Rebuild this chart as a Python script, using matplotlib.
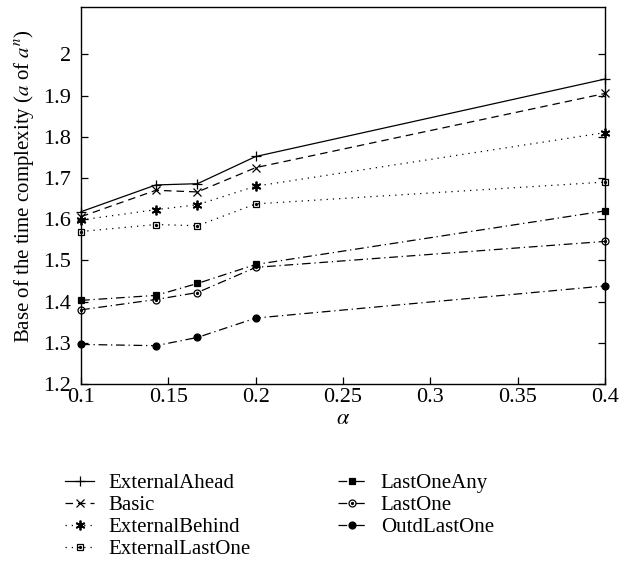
import numpy as np
import matplotlib
matplotlib.use('Agg')
import matplotlib.pyplot as plt

plt.rcParams['font.family'] = ['Liberation Serif', 'DejaVu Serif']
plt.rcParams['mathtext.fontset'] = 'stix'

# ── data ──
alpha = [0.1, 1 / 7, 1 / 6, 0.2, 0.4]
external_ahead = [1.618, 1.683, 1.686, 1.752, 1.940]
basic = [1.606, 1.670, 1.666, 1.725, 1.905]
external_behind = [1.598, 1.623, 1.635, 1.680, 1.810]
external_last_one = [1.570, 1.587, 1.584, 1.637, 1.690]
last_one_any = [1.403, 1.415, 1.444, 1.490, 1.620]
last_one = [1.380, 1.405, 1.422, 1.483, 1.546]
outd_last_one = [1.296, 1.293, 1.313, 1.360, 1.438]

dashdot = (0, (7, 3, 1, 3))
# name, values, linestyle, marker, facecolor, size, dot in centre
series = [
    ('ExternalAhead', external_ahead, '-', '+', 'k', 7, False),
    ('Basic', basic, (0, (6, 4)), 'x', 'k', 5.5, False),
    ('ExternalBehind', external_behind, (0, (1, 4)), (6, 2, 0), 'k', 7, False),
    ('ExternalLastOne', external_last_one, (0, (1, 4)), 's', 'none', 5, True),
    ('LastOneAny', last_one_any, dashdot, 's', 'k', 5, False),
    ('LastOne', last_one, dashdot, 'o', 'none', 5, True),
    ('OutdLastOne', outd_last_one, dashdot, 'o', 'k', 5, False),
]

fig = plt.figure(figsize=(6.35, 5.74), dpi=100)
ax = fig.add_axes([0.1276, 0.331, 0.8254, 0.657])

handles = []
for name, vals, ls, mk, fc, ms, dot in series:
    mew = 1.3 if name == 'ExternalBehind' else 0.9
    ln, = ax.plot(alpha, vals, color='k', linestyle=ls, linewidth=0.9,
                  marker=mk, markersize=ms, markerfacecolor=fc,
                  markeredgecolor='k', markeredgewidth=mew, clip_on=False,
                  zorder=3)
    if dot:
        d, = ax.plot(alpha, vals, linestyle='none', marker='o', markersize=1.3,
                     color='k', clip_on=False, zorder=4)
        handles.append((ln, d))
    else:
        handles.append(ln)

ax.set_xlim(0.1, 0.4)
ax.set_ylim(1.2, 2.115)
ax.set_xticks(np.arange(0.1, 0.401, 0.05))
ax.set_xticklabels(['0.1', '0.15', '0.2', '0.25', '0.3', '0.35', '0.4'])
ax.set_yticks(np.arange(1.2, 2.01, 0.1))
ax.set_yticklabels(['1.2', '1.3', '1.4', '1.5', '1.6', '1.7', '1.8', '1.9', '2'])
ax.tick_params(direction='in', labelsize=16, right=True, length=5, width=0.9)
ax.tick_params(axis='x', pad=3)
ax.tick_params(axis='y', pad=7)
for sp in ax.spines.values():
    sp.set_linewidth(1.0)

ax.set_xlabel(r'$\alpha$', fontsize=16, labelpad=2)
ax.set_ylabel(r'Base of the time complexity ($a$ of $a^n$)', fontsize=15)
ax.yaxis.set_label_coords(-0.086, 0.525)

labels = [s[0] for s in series]
fig.legend(handles, labels, loc='upper left', bbox_to_anchor=(0.09, 0.19),
           ncol=2, frameon=False, fontsize=15, handlelength=1.35,
           handletextpad=0.7, columnspacing=4.2, labelspacing=0.12,
           borderaxespad=0)

plt.savefig('out.png', dpi=100, facecolor='white')
plt.close()
